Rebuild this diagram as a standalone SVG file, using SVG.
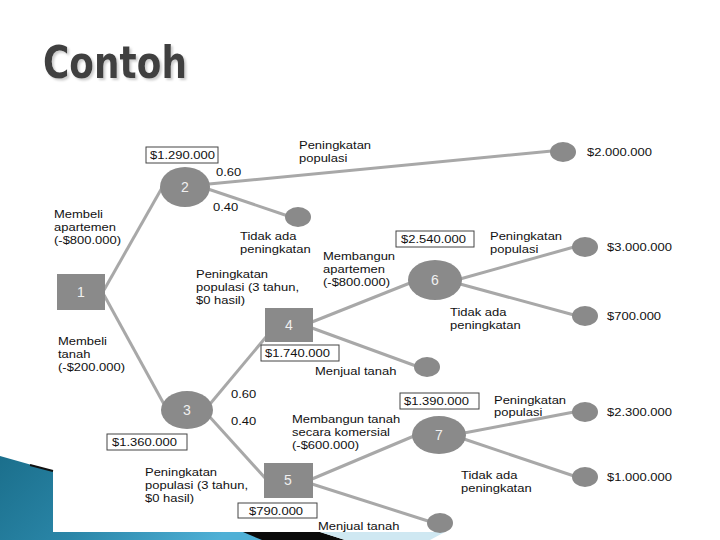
<svg xmlns="http://www.w3.org/2000/svg" width="720" height="540" viewBox="0 0 720 540">
<defs>
<linearGradient id="sw" x1="0" y1="0" x2="1" y2="0.3">
<stop offset="0" stop-color="#1b6f8c"/>
<stop offset="0.5" stop-color="#2a86a8"/>
<stop offset="1" stop-color="#4fb0d6"/>
</linearGradient>
<filter id="sh" x="-10%" y="-20%" width="130%" height="150%">
<feDropShadow dx="2" dy="2" stdDeviation="0.8" flood-color="#c8c8c8" flood-opacity="0.9"/>
</filter>
<style>
.t{font-family:"Liberation Sans",Arial,sans-serif;font-size:11px;fill:#111}
.n{font-family:"Liberation Sans",Arial,sans-serif;font-size:14px;fill:#f0f0f0;text-anchor:middle}
.nd{fill:#8a8a8a}
.ln{stroke:#a8a8a8;stroke-width:3;fill:none}
.bx{fill:#fff;stroke:#444;stroke-width:1}
</style>
</defs>
<rect width="720" height="540" fill="#fff"/>
<!-- decorative swoosh -->
<g id="swoosh">
<polygon points="0,456 53,471 53,532 245,532 275,540 0,540" fill="url(#sw)"/>
<polygon points="243,532 320,532 345,540 262,540" fill="#0a0a0a"/>
<polygon points="320,532 445,532 430,540 345,540" fill="#cfe8f2"/>
<line x1="30" y1="465" x2="53" y2="471" stroke="#111" stroke-width="2"/>
</g>
<text x="43" y="78" font-family="DejaVu Sans,Verdana,sans-serif" font-weight="bold" font-size="44" fill="#404040" textLength="144" lengthAdjust="spacingAndGlyphs" filter="url(#sh)">Contoh</text>
<g id="connectors">
<line class="ln" x1="104" y1="290" x2="163" y2="186"/>
<line class="ln" x1="104" y1="295" x2="165" y2="406"/>
<line class="ln" x1="209" y1="184" x2="552" y2="151"/>
<line class="ln" x1="208" y1="189" x2="288" y2="216"/>
<line class="ln" x1="210" y1="404" x2="266" y2="337"/>
<line class="ln" x1="208" y1="415" x2="266" y2="479"/>
<line class="ln" x1="312" y1="322" x2="410" y2="283"/>
<line class="ln" x1="312" y1="328" x2="416" y2="366"/>
<line class="ln" x1="460" y1="279" x2="574" y2="247"/>
<line class="ln" x1="460" y1="284" x2="574" y2="315"/>
<line class="ln" x1="312" y1="479" x2="414" y2="436"/>
<line class="ln" x1="312" y1="484" x2="428" y2="521"/>
<line class="ln" x1="464" y1="433" x2="574" y2="412"/>
<line class="ln" x1="464" y1="439" x2="574" y2="476"/>
</g>
<g id="node1"><rect class="nd" x="57" y="274" width="48" height="36"/><text class="n" x="81" y="297">1</text></g>
<g id="node2"><ellipse class="nd" cx="185" cy="187" rx="25" ry="20"/><text class="n" x="185" y="192">2</text></g>
<g id="node3"><ellipse class="nd" cx="187" cy="410" rx="26" ry="19"/><text class="n" x="187" y="415">3</text></g>
<g id="node4"><rect class="nd" x="265" y="308" width="48" height="34"/><text class="n" x="289" y="330">4</text></g>
<g id="node5"><rect class="nd" x="264" y="463" width="49" height="35"/><text class="n" x="288" y="485">5</text></g>
<g id="node6"><ellipse class="nd" cx="435" cy="280" rx="27" ry="20"/><text class="n" x="435" y="285">6</text></g>
<g id="node7"><ellipse class="nd" cx="439" cy="435" rx="27" ry="19"/><text class="n" x="439" y="440">7</text></g>
<g id="end-2000000"><ellipse class="nd" cx="563" cy="152" rx="13" ry="10"/><text class="t" transform="translate(587,156) scale(1.18,1)">$2.000.000</text></g>
<g id="end-2-no"><ellipse class="nd" cx="298" cy="217" rx="13" ry="10"/></g>
<g id="end-3000000"><ellipse class="nd" cx="585" cy="247" rx="13" ry="10"/><text class="t" transform="translate(607,251) scale(1.18,1)">$3.000.000</text></g>
<g id="end-700000"><ellipse class="nd" cx="585" cy="316" rx="13" ry="10"/><text class="t" transform="translate(607,320) scale(1.18,1)">$700.000</text></g>
<g id="end-4-sell"><ellipse class="nd" cx="427" cy="367" rx="13" ry="10"/></g>
<g id="end-2300000"><ellipse class="nd" cx="585" cy="412" rx="13" ry="10"/><text class="t" transform="translate(607,416) scale(1.18,1)">$2.300.000</text></g>
<g id="end-1000000"><ellipse class="nd" cx="585" cy="477" rx="13" ry="10"/><text class="t" transform="translate(607,481) scale(1.18,1)">$1.000.000</text></g>
<g id="end-5-sell"><ellipse class="nd" cx="440" cy="523" rx="13" ry="10"/></g>
<g id="values">
<rect class="bx" x="146" y="147" width="72" height="16"/><text class="t" transform="translate(150,159) scale(1.18,1)">$1.290.000</text>
<rect class="bx" x="396" y="231" width="78" height="16"/><text class="t" transform="translate(401,243) scale(1.18,1)">$2.540.000</text>
<rect class="bx" x="261" y="345" width="78" height="16"/><text class="t" transform="translate(265,357) scale(1.18,1)">$1.740.000</text>
<rect class="bx" x="107" y="434" width="80" height="16"/><text class="t" transform="translate(112,446) scale(1.18,1)">$1.360.000</text>
<rect class="bx" x="400" y="393" width="79" height="16"/><text class="t" transform="translate(404,405) scale(1.18,1)">$1.390.000</text>
<rect class="bx" x="238" y="503" width="79" height="15"/><text class="t" transform="translate(249,515) scale(1.18,1)">$790.000</text>
</g>
<g id="labels">
<text class="t" transform="translate(299,149) scale(1.18,1)"><tspan x="0">Peningkatan</tspan><tspan x="0" dy="13">populasi</tspan></text>
<text class="t" transform="translate(216,176) scale(1.18,1)">0.60</text>
<text class="t" transform="translate(213,211) scale(1.18,1)">0.40</text>
<text class="t" transform="translate(240,240) scale(1.18,1)"><tspan x="0">Tidak ada</tspan><tspan x="0" dy="13">peningkatan</tspan></text>
<text class="t" transform="translate(54,218) scale(1.18,1)"><tspan x="0">Membeli</tspan><tspan x="0" dy="13">apartemen</tspan><tspan x="0" dy="13">(-$800.000)</tspan></text>
<text class="t" transform="translate(196,278) scale(1.18,1)"><tspan x="0">Peningkatan</tspan><tspan x="0" dy="13">populasi (3 tahun,</tspan><tspan x="0" dy="13">$0 hasil)</tspan></text>
<text class="t" transform="translate(323,260) scale(1.18,1)"><tspan x="0">Membangun</tspan><tspan x="0" dy="13">apartemen</tspan><tspan x="0" dy="13">(-$800.000)</tspan></text>
<text class="t" transform="translate(490,240) scale(1.18,1)"><tspan x="0">Peningkatan</tspan><tspan x="0" dy="13">populasi</tspan></text>
<text class="t" transform="translate(450,316) scale(1.18,1)"><tspan x="0">Tidak ada</tspan><tspan x="0" dy="13">peningkatan</tspan></text>
<text class="t" transform="translate(315,375) scale(1.18,1)">Menjual tanah</text>
<text class="t" transform="translate(58,345) scale(1.18,1)"><tspan x="0">Membeli</tspan><tspan x="0" dy="13">tanah</tspan><tspan x="0" dy="13">(-$200.000)</tspan></text>
<text class="t" transform="translate(231,398) scale(1.18,1)">0.60</text>
<text class="t" transform="translate(231,425) scale(1.18,1)">0.40</text>
<text class="t" transform="translate(292,423) scale(1.18,1)"><tspan x="0">Membangun tanah</tspan><tspan x="0" dy="13">secara komersial</tspan><tspan x="0" dy="13">(-$600.000)</tspan></text>
<text class="t" transform="translate(494,404) scale(1.18,1)"><tspan x="0">Peningkatan</tspan><tspan x="0" dy="12">populasi</tspan></text>
<text class="t" transform="translate(461,479) scale(1.18,1)"><tspan x="0">Tidak ada</tspan><tspan x="0" dy="13">peningkatan</tspan></text>
<text class="t" transform="translate(145,476) scale(1.18,1)"><tspan x="0">Peningkatan</tspan><tspan x="0" dy="13">populasi (3 tahun,</tspan><tspan x="0" dy="13">$0 hasil)</tspan></text>
<text class="t" transform="translate(318,530) scale(1.18,1)">Menjual tanah</text>
</g>
</svg>
